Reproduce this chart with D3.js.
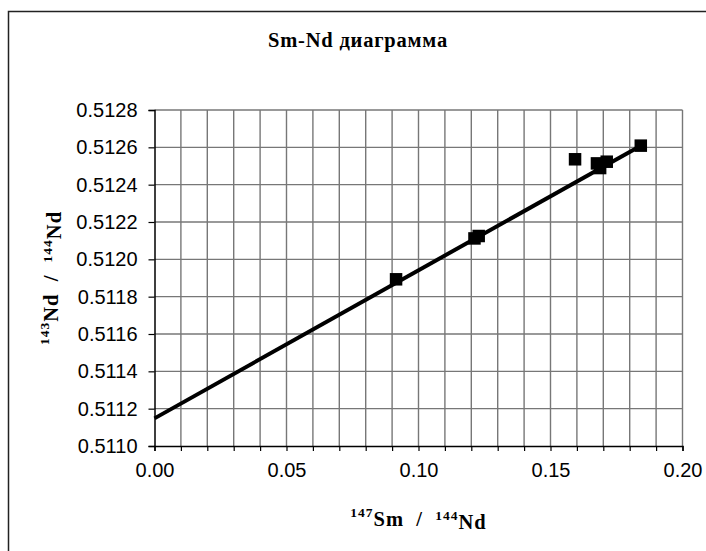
<!DOCTYPE html>
<html lang="en">
<head>
<meta charset="UTF-8">
<title>Sm-Nd</title>
<script src="https://d3js.org/d3.v7.min.js"></script>
<style>
  body { margin: 0; background: #fff; }
  .grid line { stroke: #777; stroke-width: 1.4px; }
  .tick text { font-family: "Liberation Sans", Arial, sans-serif; font-size: 20px; fill: #000; }
</style>
</head>
<body>
<svg width="706" height="551"></svg>
<script>
// measured points (147Sm/144Nd, 143Nd/144Nd)
var smNd = [0.0915, 0.1212, 0.1228, 0.1593, 0.1676, 0.1688, 0.1713, 0.1842];
var ndNd = [0.511893, 0.512112, 0.512125, 0.512536, 0.512514, 0.512489, 0.512523, 0.512609];
// isochron endpoints
var lineX = [0, 0.1842];
var lineY = [0.511148, 0.512609];
var xTicks = [0, 0.05, 0.10, 0.15, 0.20];
var xGrid = d3.range(0, 21).map(function (i) { return i / 100; });
var yTicks = d3.range(0, 10).map(function (i) { return 0.5110 + i * 0.0002; });

var svg = d3.select("svg");
var pLeft = 154.5, pRight = 682.5, pTop = 110, pBottom = 446;

var x = d3.scaleLinear().domain([0, 0.2]).range([pLeft, pRight]);
var y = d3.scaleLinear().domain([0.5110, 0.5128]).range([pBottom, pTop]);

// chart frame (runs off the right and bottom of the picture)
svg.append("rect")
    .attr("x", 8.5).attr("y", 11.5)
    .attr("width", 760).attr("height", 600)
    .attr("fill", "none").attr("stroke", "#222").attr("stroke-width", 1.5);

// grid
var grid = svg.append("g").attr("class", "grid");
grid.selectAll("line.v").data(xGrid.slice(1)).enter().append("line")
    .attr("x1", function (d) { return x(d); }).attr("x2", function (d) { return x(d); })
    .attr("y1", pTop).attr("y2", pBottom);
grid.selectAll("line.h").data(yTicks.slice(1)).enter().append("line")
    .attr("x1", pLeft).attr("x2", pRight)
    .attr("y1", function (d) { return y(d); }).attr("y2", function (d) { return y(d); });

// axes
var xAxis = d3.axisBottom(x).tickValues(xGrid).tickSize(5).tickPadding(12)
    .tickFormat(function (d) {
        return xTicks.some(function (t) { return Math.abs(t - d) < 1e-9; }) ? d3.format(".2f")(d) : "";
    });
svg.append("g").attr("transform", "translate(0," + pBottom + ")").call(xAxis)
    .call(function (g) {
        g.select(".domain").attr("stroke", "#000").attr("stroke-width", 1.5);
        g.selectAll(".tick line").attr("stroke", "#000").attr("stroke-width", 1.2);
    });

var yAxis = d3.axisLeft(y).tickValues(yTicks).tickSize(6).tickPadding(11)
    .tickFormat(d3.format(".4f"));
svg.append("g").attr("transform", "translate(" + pLeft + ",0)").call(yAxis)
    .call(function (g) {
        g.select(".domain").attr("stroke", "#000").attr("stroke-width", 1.5);
        g.selectAll(".tick line").attr("stroke", "#000").attr("stroke-width", 1.2);
    });

// isochron line
svg.append("line")
    .attr("x1", x(lineX[0])).attr("y1", y(lineY[0]))
    .attr("x2", x(lineX[1])).attr("y2", y(lineY[1]))
    .attr("stroke", "#000").attr("stroke-width", 4);

// points
var pts = smNd.map(function (v, i) { return [v, ndNd[i]]; });
var sz = 12.5;
svg.append("g").selectAll("rect").data(pts).enter().append("rect")
    .attr("x", function (d) { return x(d[0]) - sz / 2; })
    .attr("y", function (d) { return y(d[1]) - sz / 2; })
    .attr("width", sz).attr("height", sz)
    .attr("fill", "#000");

// title
svg.append("text")
    .attr("x", 358).attr("y", 46.5)
    .attr("text-anchor", "middle")
    .style("font-family", "'Liberation Serif', 'Times New Roman', serif")
    .style("font-weight", "bold").style("font-size", "20.5px")
    .style("letter-spacing", "0.8px")
    .text("Sm-Nd диаграмма");

// x label
var xl = svg.append("text")
    .attr("x", (pLeft + pRight) / 2).attr("y", 523)
    .attr("text-anchor", "middle")
    .style("font-family", "'Liberation Serif', 'Times New Roman', serif")
    .style("font-weight", "bold").style("font-size", "20.5px")
    .style("letter-spacing", "1px")
    .style("white-space", "pre");
xl.append("tspan").attr("dy", "-0.45em").style("font-size", "13.5px").text("147");
xl.append("tspan").attr("dy", "0.45em").text("Sm  /  ");
xl.append("tspan").attr("dy", "-0.45em").style("font-size", "13.5px").text("144");
xl.append("tspan").attr("dy", "0.45em").text("Nd");

// y label
var yl = svg.append("text")
    .attr("transform", "translate(55," + (pTop + pBottom) / 2 + ") rotate(-90)")
    .attr("text-anchor", "middle")
    .style("font-family", "'Liberation Serif', 'Times New Roman', serif")
    .style("font-weight", "bold").style("font-size", "20.5px")
    .style("letter-spacing", "1px")
    .style("white-space", "pre");
yl.append("tspan").attr("dy", "-0.45em").style("font-size", "13.5px").text("143");
yl.append("tspan").attr("dy", "0.45em").text("Nd  /  ");
yl.append("tspan").attr("dy", "-0.45em").style("font-size", "13.5px").text("144");
yl.append("tspan").attr("dy", "0.45em").text("Nd");
</script>
</body>
</html>
